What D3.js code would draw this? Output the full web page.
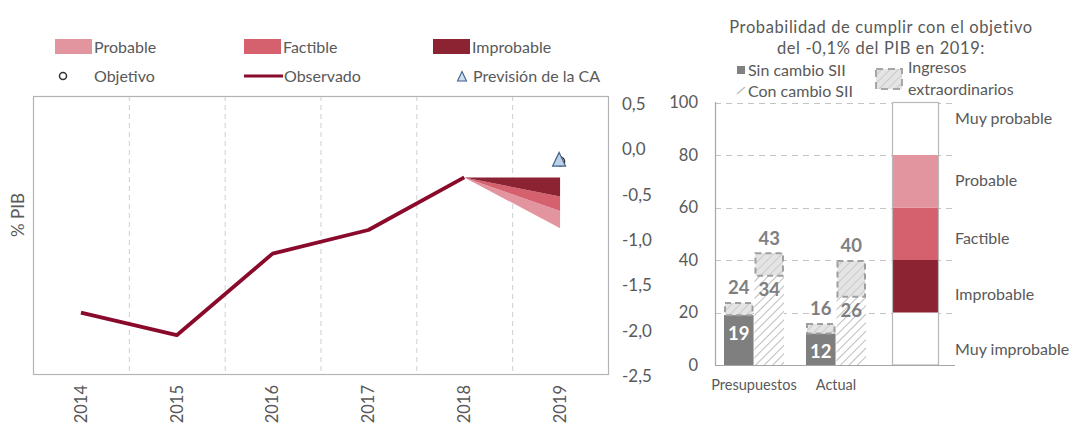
<!DOCTYPE html>
<html><head><meta charset="utf-8">
<script src="https://cdn.jsdelivr.net/npm/d3@7"></script>
<style>
html,body{margin:0;padding:0;background:#fff;}
svg text{font-family:Lato,"Open Sans",sans-serif;fill:#595959;}
</style></head>
<body><svg id="c" width="1073" height="424"></svg>
<script>
// ---------- Data ----------
const years = ["2014","2015","2016","2017","2018","2019"];
const observado = [-1.80, -2.05, -1.15, -0.89, -0.31];
const fanStart = -0.31;                 // 2018 base of fan
const fanImprobable = -0.52;            // 2019 bottom of improbable band
const fanFactible = -0.68;              // 2019 bottom of factible band
const fanProbable = -0.87;              // 2019 bottom of probable band
const objetivo2019 = -0.10;
const prevision2019 = -0.12;
const yTicksLeft = [0.5, 0.0, -0.5, -1.0, -1.5, -2.0, -2.5];

const barCategories = ["Presupuestos", "Actual"];
const sinCambio = [19, 12];
const sinCambioIngresos = [24, 16];
const conCambio = [34, 26];
const conCambioIngresos = [43, 40];
const yTicksRight = [0, 20, 40, 60, 80, 100];
const zoneNames = ["Muy improbable", "Improbable", "Factible", "Probable", "Muy probable"];
const zoneBounds = [0, 20, 40, 60, 80, 100];

const colProbable = "#e3959f", colFactible = "#d5606e", colImprobable = "#8b2332";
const colLine = "#8a0a2c";
const FS = 16;

const svg = d3.select("#c");
const defs = svg.append("defs");
const hatch = defs.append("pattern").attr("id","hatch").attr("patternUnits","userSpaceOnUse")
  .attr("width",6).attr("height",6).attr("patternTransform","rotate(45)");
hatch.append("rect").attr("width",6).attr("height",6).attr("fill","#fff");
hatch.append("line").attr("x1",0).attr("y1",0).attr("x2",0).attr("y2",6).attr("stroke","#bdbdbd").attr("stroke-width",2);
const hatch2 = defs.append("pattern").attr("id","hatch2").attr("patternUnits","userSpaceOnUse")
  .attr("width",6).attr("height",6).attr("patternTransform","rotate(45)");
hatch2.append("rect").attr("width",6).attr("height",6).attr("fill","#e4e4e4");
hatch2.append("line").attr("x1",0).attr("y1",0).attr("x2",0).attr("y2",6).attr("stroke","#cacaca").attr("stroke-width",2);

// ---------- Left chart ----------
const L = {x0:33, x1:608, y0:96, y1:374};
const x = d3.scaleBand().domain(years).range([L.x0, L.x1]);
const y = d3.scaleLinear().domain([-2.5, 0.5]).range([376, 104]);
const cx = d => x(d) + x.bandwidth()/2;

const gl = svg.append("g");
years.slice(1).forEach(yr => {
  gl.append("line").attr("x1",x(yr)+0.5).attr("x2",x(yr)+0.5).attr("y1",L.y0).attr("y2",L.y1)
    .attr("stroke","#cfcfcf").attr("stroke-dasharray","5,4").attr("stroke-width",1);
});
svg.append("rect").attr("x",L.x0+0.5).attr("y",L.y0+0.5).attr("width",L.x1-L.x0).attr("height",L.y1-L.y0)
  .attr("fill","none").attr("stroke","#b3b3b3").attr("stroke-width",1.2);

// fan
const xs = cx("2018"), xe = cx("2019");
const fan = [
  {top:fanFactible, bot:fanProbable, c:colProbable},
  {top:fanImprobable, bot:fanFactible, c:colFactible},
  {top:fanStart, bot:fanImprobable, c:colImprobable}
];
fan.forEach(f => {
  svg.append("path").attr("d", d3.line()([[xs,y(fanStart)],[xe,y(f.top)],[xe,y(f.bot)]]) + "Z").attr("fill", f.c);
});

// observed line
svg.append("path").datum(observado).attr("fill","none").attr("stroke",colLine).attr("stroke-width",3.8)
  .attr("stroke-linejoin","round")
  .attr("d", d3.line().x((d,i)=>cx(years[i])).y(d=>y(d)));

// objective circle & forecast triangle
svg.append("circle").attr("cx",cx("2019")).attr("cy",y(objetivo2019)+3).attr("r",4.5)
  .attr("fill","#fff").attr("stroke","#333").attr("stroke-width",1.5);
const tri = (cxp, cyp, s) => `M${cxp},${cyp-s*0.6}L${cxp+s*0.5},${cyp+s*0.45}L${cxp-s*0.5},${cyp+s*0.45}Z`;
svg.append("path").attr("d", tri(cx("2019")-1, y(prevision2019), 13))
  .attr("fill","#bcd1e8").attr("stroke","#3f6189").attr("stroke-width",1.2);

// right-side y axis labels
const yAxis = d3.axisRight(y).tickValues(yTicksLeft).tickSize(0)
  .tickFormat(d => d3.format(".1f")(d).replace(".",",").replace("−","-"));
const ya = svg.append("g").attr("transform",`translate(617,0)`).call(yAxis);
ya.select(".domain").remove();
ya.selectAll("text").attr("font-size",17).attr("fill","#595959").attr("x",5);

// x axis year labels rotated
const xa = d3.axisBottom(x).tickSize(0);
const xg = svg.append("g").attr("transform",`translate(0,${L.y1})`).call(xa);
xg.select(".domain").remove();
xg.selectAll("text").attr("font-size",16.5).attr("fill","#595959")
  .attr("text-anchor","end").attr("dy","0.35em").attr("y",0)
  .attr("transform","translate(0,11) rotate(-90)");

// y title
svg.append("text").attr("transform","translate(18,215) rotate(-90)").attr("text-anchor","middle")
  .attr("dy","0.35em").attr("font-size",17).text("% PIB");

// left legend
const leg = svg.append("g");
[[55,"Probable",colProbable],[244,"Factible",colFactible],[433,"Improbable",colImprobable]].forEach(([lx,t,c])=>{
  leg.append("rect").attr("x",lx).attr("y",39).attr("width",37).attr("height",15).attr("fill",c);
  leg.append("text").attr("x",lx+39).attr("y",47).attr("dy","0.35em").attr("font-size",FS).text(t);
});
leg.append("circle").attr("cx",63).attr("cy",76).attr("r",3.5).attr("fill","#fff").attr("stroke","#333").attr("stroke-width",1.5);
leg.append("text").attr("x",94).attr("y",76).attr("dy","0.35em").attr("font-size",FS).text("Objetivo");
leg.append("line").attr("x1",244).attr("x2",283).attr("y1",76).attr("y2",76).attr("stroke",colLine).attr("stroke-width",3);
leg.append("text").attr("x",284).attr("y",76).attr("dy","0.35em").attr("font-size",FS).text("Observado");
leg.append("path").attr("d",tri(462,77,9)).attr("fill","#cfdff0").attr("stroke","#3f6189").attr("stroke-width",1.1);
leg.append("text").attr("x",473).attr("y",76).attr("dy","0.35em").attr("font-size",FS).text("Previsión de la CA");

// ---------- Right chart ----------
const R = {x0:715, x1:955, y0:102, y1:365};
const yr = d3.scaleLinear().domain([0,100]).range([365, 102.5]);
const xb = d3.scaleBand().domain(barCategories).range([713, 877]);
const xsub = d3.scaleBand().domain(["sin","con"]).range([-30,30]).paddingInner(0.03);
const bc = c => xb(c) + xb.bandwidth()/2;

yTicksRight.slice(1).forEach(t=>{
  svg.append("line").attr("x1",R.x0).attr("x2",R.x1).attr("y1",Math.round(yr(t))+0.5).attr("y2",Math.round(yr(t))+0.5)
    .attr("stroke","#c4c4c4").attr("stroke-dasharray","6,5").attr("stroke-width",1);
});

const ra = d3.axisLeft(yr).tickValues(yTicksRight).tickSize(0);
const rag = svg.append("g").attr("transform",`translate(${R.x0},0)`).call(ra);
rag.select(".domain").remove();
rag.selectAll("text").attr("font-size",16.5).attr("fill","#595959").attr("x",-17);

// probability column
const colX0 = 892, colW = 46;
const zoneColors = ["#fff", colImprobable, colFactible, colProbable, "#fff"];
zoneNames.forEach((n,i)=>{
  svg.append("rect").attr("x",colX0).attr("y",yr(zoneBounds[i+1])).attr("width",colW)
    .attr("height",yr(zoneBounds[i])-yr(zoneBounds[i+1])).attr("fill",zoneColors[i]);
});
svg.append("rect").attr("x",colX0+0.5).attr("y",yr(100)).attr("width",colW).attr("height",yr(0)-yr(100))
  .attr("fill","none").attr("stroke","#b8b8b8").attr("stroke-width",1.2);
const zoneLabelY = [349, 294, 238, 180, 118];
zoneNames.forEach((n,i)=>{
  svg.append("text").attr("x",955).attr("y",zoneLabelY[i]).attr("dy","0.35em").attr("font-size",FS).text(n);
});

// bars
barCategories.forEach((c,i)=>{
  const xc = bc(c);
  const w = xsub.bandwidth();
  const xS = xc + xsub("sin"), xC = xc + xsub("con");
  svg.append("rect").attr("x",xS).attr("y",yr(sinCambio[i])).attr("width",w).attr("height",yr(0)-yr(sinCambio[i])).attr("fill","#7f7f7f");
  svg.append("rect").attr("x",xS+1).attr("y",yr(sinCambioIngresos[i])+1).attr("width",w-2)
    .attr("height",yr(sinCambio[i])-yr(sinCambioIngresos[i])-1).attr("fill","url(#hatch2)")
    .attr("stroke","#9f9f9f").attr("stroke-width",2).attr("stroke-dasharray","6,4");
  svg.append("rect").attr("x",xC).attr("y",yr(conCambio[i])).attr("width",w).attr("height",yr(0)-yr(conCambio[i])).attr("fill","url(#hatch)");
  svg.append("rect").attr("x",xC+1).attr("y",yr(conCambioIngresos[i])+1).attr("width",w-2)
    .attr("height",yr(conCambio[i])-yr(conCambioIngresos[i])-1).attr("fill","url(#hatch2)")
    .attr("stroke","#9f9f9f").attr("stroke-width",2).attr("stroke-dasharray","6,4");
  const lab = (xx,yy,t,col)=>svg.append("text").attr("x",xx).attr("y",yy).attr("dy","0.35em")
    .attr("text-anchor","middle").attr("font-size",18.5).attr("font-weight","bold").style("fill",col).text(t);
  lab(xS+w/2, yr(sinCambioIngresos[i])-14, sinCambioIngresos[i], "#7f7f7f");
  lab(xS+w/2, yr(sinCambio[i])+18, sinCambio[i], "#fff");
  lab(xC+w/2, yr(conCambioIngresos[i])-14, conCambioIngresos[i], "#7f7f7f");
  lab(xC+w/2, yr(conCambio[i])+14, conCambio[i], "#7f7f7f");
});

svg.append("line").attr("x1",R.x0+0.5).attr("x2",R.x0+0.5).attr("y1",R.y0).attr("y2",R.y1).attr("stroke","#a6a6a6").attr("stroke-width",1.2);
svg.append("line").attr("x1",R.x0).attr("x2",R.x1).attr("y1",R.y1+0.5).attr("y2",R.y1+0.5).attr("stroke","#a6a6a6").attr("stroke-width",1.2);

barCategories.forEach(c=>{
  svg.append("text").attr("x",bc(c)).attr("y",385).attr("dy","0.35em").attr("text-anchor","middle").attr("font-size",14.5).text(c);
});

// right title and legend
svg.append("text").attr("x",881).attr("y",27).attr("text-anchor","middle").attr("dy","0.35em").attr("font-size",16.5).attr("letter-spacing",0.6).text("Probabilidad de cumplir con el objetivo");
svg.append("text").attr("x",881).attr("y",48).attr("text-anchor","middle").attr("dy","0.35em").attr("font-size",16.5).attr("letter-spacing",0.6).text("del -0,1% del PIB en 2019:");
svg.append("rect").attr("x",737).attr("y",66).attr("width",8).attr("height",8).attr("fill","#808080");
svg.append("text").attr("x",748).attr("y",70).attr("dy","0.35em").attr("font-size",FS).text("Sin cambio SII");
svg.append("line").attr("x1",737).attr("y1",94).attr("x2",745).attr("y2",87).attr("stroke","#c0c0c0").attr("stroke-width",1.5);
svg.append("text").attr("x",748).attr("y",91).attr("dy","0.35em").attr("font-size",FS).text("Con cambio SII");
svg.append("rect").attr("x",876).attr("y",69).attr("width",26).attr("height",20).attr("fill","url(#hatch2)")
  .attr("stroke","#a6a6a6").attr("stroke-width",2).attr("stroke-dasharray","7,5");
svg.append("text").attr("x",908).attr("y",67).attr("dy","0.35em").attr("font-size",FS).text("Ingresos");
svg.append("text").attr("x",908).attr("y",89).attr("dy","0.35em").attr("font-size",FS).text("extraordinarios");
</script></body></html>
